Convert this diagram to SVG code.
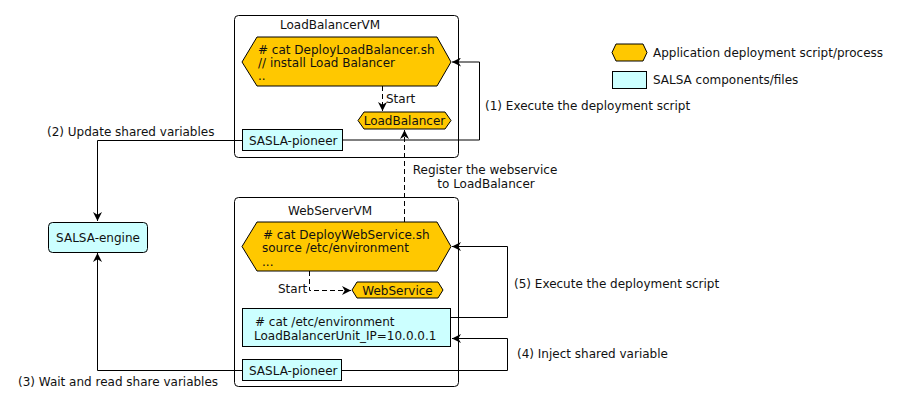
<svg xmlns="http://www.w3.org/2000/svg" width="901" height="406" viewBox="0 0 901 406">
<defs>
<marker id="arr" viewBox="0 0 10 10" refX="10" refY="5" markerWidth="9" markerHeight="9" markerUnits="userSpaceOnUse" orient="auto">
<path d="M0,0 L10,5 L0,10 L3,5 z" fill="#000"/>
</marker>
</defs>
<style>
text{font-family:"DejaVu Sans","Liberation Sans",sans-serif;font-size:12px;fill:#111}
.vm{fill:#fff;stroke:#000;stroke-width:1}
.hex{fill:#ffc800;stroke:#000;stroke-width:1}
.cy{fill:#ccffff;stroke:#000;stroke-width:1}
.ln{fill:none;stroke:#000;stroke-width:1}
.dash{fill:none;stroke:#000;stroke-width:1;stroke-dasharray:5,3}
</style>
<rect width="901" height="406" fill="#fff"/>

<g id="LoadBalancerVM">
<rect class="vm" x="234.5" y="15.5" width="224" height="142" rx="4"/>
<text x="280" y="29">LoadBalancerVM</text>
</g>
<g id="WebServerVM">
<rect class="vm" x="234.5" y="197.5" width="224" height="189" rx="4"/>
<text x="288" y="215">WebServerVM</text>
</g>

<g id="connectors">
<polyline class="ln" points="343,140 479.5,140 479.5,62 452,62" marker-end="url(#arr)"/>
<polyline class="ln" points="243,140.5 97.5,140.5 97.5,221" marker-end="url(#arr)"/>
<polyline class="ln" points="243,370.5 97.5,370.5 97.5,253" marker-end="url(#arr)"/>
<polyline class="ln" points="451,317.5 507.5,317.5 507.5,246.5 452,246.5" marker-end="url(#arr)"/>
<polyline class="ln" points="342,370.5 507.5,370.5 507.5,338.5 452,338.5" marker-end="url(#arr)"/>
<polyline class="dash" points="382.5,86 382.5,111" marker-end="url(#arr)"/>
<polyline class="dash" points="309.5,271 309.5,290.5 351,290.5" marker-end="url(#arr)"/>
<polyline class="dash" points="404.5,222 404.5,130" marker-end="url(#arr)"/>
</g>

<g id="DeployLoadBalancer">
<polygon class="hex" points="242,62 257,37 437,37 451,62 437,86 257,86"/>
<text>
<tspan x="258" y="54"># cat DeployLoadBalancer.sh</tspan>
<tspan x="258" y="67">// install Load Balancer</tspan>
<tspan x="258" y="80">..</tspan>
</text>
</g>
<g id="LoadBalancer">
<polygon class="hex" points="358,120.5 364,112 445,112 451,120.5 445,129 364,129"/>
<text x="404.5" y="125" text-anchor="middle">LoadBalancer</text>
</g>
<g id="SASLA-pioneer-LB">
<rect class="cy" x="242.5" y="129.5" width="100" height="21"/>
<text x="249" y="145">SASLA-pioneer</text>
</g>

<g id="DeployWebService">
<polygon class="hex" points="242,246.5 257,222 437,222 451,246.5 437,271 257,271"/>
<text>
<tspan x="263" y="239"># cat DeployWebService.sh</tspan>
<tspan x="262" y="252">source /etc/environment</tspan>
<tspan x="262" y="266">...</tspan>
</text>
</g>
<g id="WebService">
<polygon class="hex" points="352,290 357,282 438,282 443,290 438,298 357,298"/>
<text x="397.5" y="294.5" text-anchor="middle">WebService</text>
</g>
<g id="environment">
<rect class="cy" x="242.5" y="308.5" width="208" height="38"/>
<text>
<tspan x="255" y="326"># cat /etc/environment</tspan>
<tspan x="254" y="340">LoadBalancerUnit_IP=10.0.0.1</tspan>
</text>
</g>
<g id="SASLA-pioneer-WS">
<rect class="cy" x="242.5" y="359.5" width="99" height="21"/>
<text x="249" y="375">SASLA-pioneer</text>
</g>

<g id="SALSA-engine">
<rect class="cy" x="48.5" y="222.5" width="99" height="30" rx="4"/>
<text x="98" y="242" text-anchor="middle">SALSA-engine</text>
</g>

<g id="labels">
<text x="386" y="103">Start</text>
<text x="278" y="293">Start</text>
<text x="485" y="110">(1) Execute the deployment script</text>
<text x="47" y="136">(2) Update shared variables</text>
<text x="18" y="386">(3) Wait and read share variables</text>
<text x="517" y="358">(4) Inject shared variable</text>
<text x="514" y="288">(5) Execute the deployment script</text>
<text x="485" y="174" text-anchor="middle">Register the webservice</text>
<text x="486" y="188" text-anchor="middle">to LoadBalancer</text>
</g>

<g id="legend">
<polygon class="hex" points="612,52.5 616,44 643,44 647,52.5 643,61 616,61"/>
<text x="653" y="57">Application deployment script/process</text>
<rect class="cy" x="612.5" y="71.5" width="34" height="17"/>
<text x="653" y="84">SALSA components/files</text>
</g>
</svg>
